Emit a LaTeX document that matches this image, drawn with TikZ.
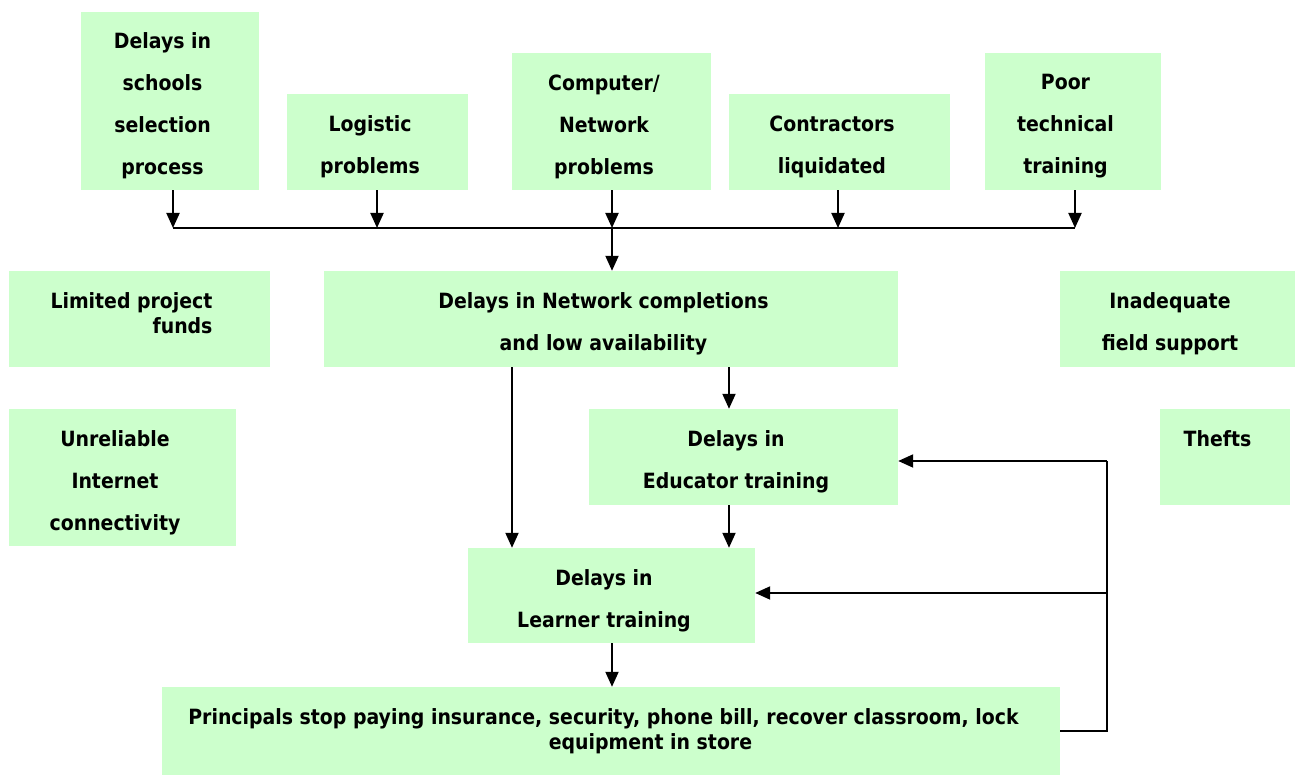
\documentclass[tikz,border=0pt]{standalone}
\usepackage{fontspec}
\setmainfont{DejaVu Sans Condensed}
\usetikzlibrary{arrows.meta}
\begin{document}
\begin{tikzpicture}[x=1pt,y=1pt,
  box/.style={fill=boxgreen, draw=none, inner sep=0pt},
  txt/.style={inner sep=0pt, align=center, yshift=-5pt, xshift=-7.5pt,
    font=\fontsize{21}{42}\selectfont\bfseries},
  tight/.style={font=\fontsize{21}{25}\selectfont\bfseries},
  arr/.style={line width=2pt, -{Triangle[length=15pt,width=13pt]}},
  ln/.style={line width=2pt}]
\definecolor{boxgreen}{HTML}{CCFFCC}
\useasboundingbox (0,0) rectangle (1300,775);
% top row
\node[box, minimum width=178, minimum height=178] (b1) at (170,674) {};
\node[txt] (t1) at (b1) {Delays in\\schools\\selection\\process};
\node[box, minimum width=181, minimum height=96] (b2) at (377.5,633) {};
\node[txt] (t2) at (b2) {Logistic\\problems};
\node[box, minimum width=199, minimum height=137] (b3) at (611.5,653.5) {};
\node[txt] (t3) at (b3) {Computer/\\Network\\problems};
\node[box, minimum width=221, minimum height=96] (b4) at (839.5,633) {};
\node[txt] (t4) at (b4) {Contractors\\liquidated};
\node[box, minimum width=176, minimum height=137] (b5) at (1073,653.5) {};
\node[txt] (t5) at (b5) {Poor\\technical\\training};
% second row
\node[box, minimum width=261, minimum height=96] (lim) at (139.5,456) {};
\node[txt, tight, align=right, yshift=11pt, xshift=7.5pt] (tlim) at (lim) {Limited project\hspace*{16pt}\\funds\hspace*{16pt}};
\node[box, minimum width=574, minimum height=96] (net) at (611,456) {};
\node[txt] (tnet) at (net) {Delays in Network completions\\and low availability};
\node[box, minimum width=235, minimum height=96] (inad) at (1177.5,456) {};
\node[txt] (tinad) at (inad) {Inadequate\\field support};
% third row
\node[box, minimum width=227, minimum height=137] (unrel) at (122.5,297.5) {};
\node[txt] (tunrel) at (unrel) {Unreliable\\Internet\\connectivity};
\node[box, minimum width=309, minimum height=96] (edu) at (743.5,318) {};
\node[txt] (tedu) at (edu) {Delays in\\Educator training};
\node[box, minimum width=130, minimum height=96] (theft) at (1225,318) {};
\node[txt, yshift=-4pt] (ttheft) at (theft) {Thefts\\\strut};
% learner
\node[box, minimum width=287, minimum height=95] (lrn) at (611.5,179.5) {};
\node[txt] (tlrn) at (lrn) {Delays in\\Learner training};
% principals
\node[box, minimum width=898, minimum height=88] (prin) at (611,44) {};
\node[txt, tight, yshift=5pt] (tprin) at (prin) {Principals stop paying insurance, security, phone bill, recover classroom, lock\\\hspace*{94pt}equipment in store};
% coordinates
\coordinate (bus) at (612,547);
\coordinate (x1) at (173,0);
\coordinate (x2) at (377,0);
\coordinate (x3) at (612,0);
\coordinate (x4) at (838,0);
\coordinate (x5) at (1075,0);
\coordinate (c1) at (512,0);
\coordinate (c2) at (729,0);
\coordinate (fbtop) at (1107,314);
\coordinate (fbmid) at (1107,182);
% top arrows
\draw[arr] (b1.south -| x1) -- (bus -| x1);
\draw[arr] (b2.south -| x2) -- (bus -| x2);
\draw[arr] (b3.south -| x3) -- (bus -| x3);
\draw[arr] (b4.south -| x4) -- (bus -| x4);
\draw[arr] (b5.south -| x5) -- (bus -| x5);
\draw[ln] (bus -| x1) -- (bus -| x5);
\draw[arr] (bus) -- (bus |- net.north);
% middle arrows
\draw[arr] (net.south -| c1) -- (lrn.north -| c1);
\draw[arr] (net.south -| c2) -- (edu.north -| c2);
\draw[arr] (edu.south -| c2) -- (lrn.north -| c2);
\draw[arr] (lrn.south -| bus) -- (prin.north -| bus);
% feedback
\draw[ln] (prin.east) -| (fbtop);
\draw[arr] (fbtop) -- (edu.east |- fbtop);
\draw[arr] (fbmid) -- (lrn.east |- fbmid);
\end{tikzpicture}
\end{document}
